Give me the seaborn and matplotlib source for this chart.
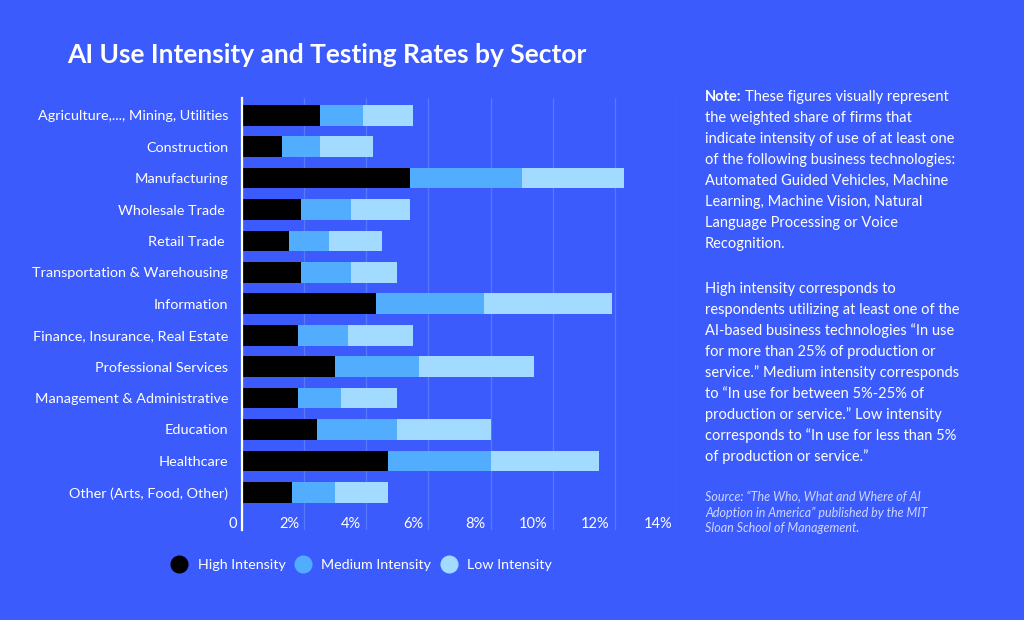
import numpy as np
import pandas as pd
import matplotlib
matplotlib.use('Agg')
import matplotlib.pyplot as plt
import seaborn as sns
from matplotlib.lines import Line2D
from matplotlib.transforms import ScaledTranslation

# data (% of firms)
sectors = ['Agriculture,..., Mining, Utilities', 'Construction', 'Manufacturing',
           'Wholesale Trade ', 'Retail Trade ', 'Transportation & Warehousing',
           'Information', 'Finance, Insurance, Real Estate', 'Professional Services',
           'Management & Administrative', 'Education', 'Healthcare',
           'Other (Arts, Food, Other)']
high = [2.5, 1.3, 5.4, 1.9, 1.5, 1.9, 4.3, 1.8, 3.0, 1.8, 2.4, 4.7, 1.6]
medium = [1.4, 1.2, 3.6, 1.6, 1.3, 1.6, 3.5, 1.6, 2.7, 1.4, 2.6, 3.3, 1.4]
low = [1.6, 1.7, 3.3, 1.9, 1.7, 1.5, 4.1, 2.1, 3.7, 1.8, 3.0, 3.5, 1.7]
x_ticks = [0, 2, 4, 6, 8, 10, 12, 14]
x_tick_labels = ['0', '2%', '4%', '6%', '8%', '10%', '12%', '14%']
series_names = ['High Intensity', 'Medium Intensity', 'Low Intensity']

BG = '#3b5bfd'
C_HIGH = '#000000'
C_MED = '#52adff'
C_LOW = '#a2dbff'
GRID = '#5877ff'

df = pd.DataFrame({'sector': sectors, 'high': high, 'medium': medium, 'low': low})
df['hm'] = df['high'] + df['medium']
df['total'] = df['hm'] + df['low']

sns.set_theme(style='white')
plt.rcParams['font.family'] = ['Lato', 'DejaVu Sans']

fig = plt.figure(figsize=(10.24, 6.2), dpi=100, facecolor=BG)
ax = fig.add_axes([242 / 1024, 1 - 530 / 620, 435 / 1024, 432 / 620])
ax.set_facecolor(BG)

# stacked bars: draw cumulative totals back to front
for col, c in [('total', C_LOW), ('hm', C_MED), ('high', C_HIGH)]:
    sns.barplot(data=df, x=col, y='sector', order=sectors, color=c,
                saturation=1, width=0.66, orient='h', linewidth=0,
                edgecolor='none', ax=ax)

ax.set_xlim(0, 14)
ax.set_ylim(13.2, -0.55)
ax.set_xlabel('')
ax.set_ylabel('')
ax.set_xticks(x_ticks)
ax.set_xticklabels(x_tick_labels)
ax.grid(axis='x', color=GRID, lw=0.9)
ax.set_axisbelow(True)
for s in ['top', 'right', 'bottom']:
    ax.spines[s].set_visible(False)
ax.spines['left'].set_color('white')
ax.spines['left'].set_linewidth(1.6)
ax.spines['left'].set_zorder(5)

ax.tick_params(axis='y', length=0, pad=10, labelsize=10.4, labelcolor='white')
ax.tick_params(axis='x', length=0, pad=0, labelsize=10.5, labelcolor='white')
shift = ScaledTranslation(-5 / 100, 13 / 100, fig.dpi_scale_trans)
for lab in ax.get_xticklabels():
    lab.set_horizontalalignment('right')
    lab.set_transform(lab.get_transform() + shift)

# title
fig.text(67 / 1024, 1 - 55 / 620, 'AI Use Intensity and Testing Rates by Sector',
         color='white', fontsize=19, fontweight='bold', va='center', ha='left')

# legend
handles = [Line2D([], [], marker='o', ls='', markersize=12, color=c)
           for c in [C_HIGH, C_MED, C_LOW]]
fig.legend(handles, series_names, loc='center left',
           bbox_to_anchor=(152 / 1024, 1 - 565 / 620), ncol=3, frameon=False,
           handletextpad=0.3, columnspacing=0.2, fontsize=10.3, labelcolor='white')

# side notes
note_lines = ['the weighted share of firms that',
              'indicate intensity of use of at least one',
              'of the following business technologies:',
              'Automated Guided Vehicles, Machine',
              'Learning, Machine Vision, Natural',
              'Language Processing or Voice',
              'Recognition.']
para_lines = ['High intensity corresponds to',
              'respondents utilizing at least one of the',
              'AI-based business technologies \u201cIn use',
              'for more than 25% of production or',
              'service.\u201d Medium intensity corresponds',
              'to \u201cIn use for between 5%-25% of',
              'production or service.\u201d Low intensity',
              'corresponds to \u201cIn use for less than 5%',
              'of production or service.\u201d']
source_lines = ['Source: \u201cThe Who, What and Where of AI',
                'Adoption in America\u201d published by the MIT',
                'Sloan School of Management.']

nx = 705 / 1024
note = fig.text(nx, 1 - 97 / 620, 'Note:', color='white', fontsize=10.5,
                fontweight='bold', va='center')
fig.text(nx + 40 / 1024, 1 - 97 / 620, 'These figures visually represent',
         color='white', fontsize=10.5, va='center')
for i, line in enumerate(note_lines):
    fig.text(nx, 1 - (118 + 21 * i) / 620, line, color='white', fontsize=10.5, va='center')
for i, line in enumerate(para_lines):
    fig.text(nx, 1 - (289 + 20.9 * i) / 620, line, color='white', fontsize=10.5, va='center')
for i, line in enumerate(source_lines):
    fig.text(nx, 1 - (497 + 15.7 * i) / 620, line, color='#cdd5ff', fontsize=9,
             style='italic', va='center')

fig.savefig('out.png', dpi=100, facecolor=BG)
